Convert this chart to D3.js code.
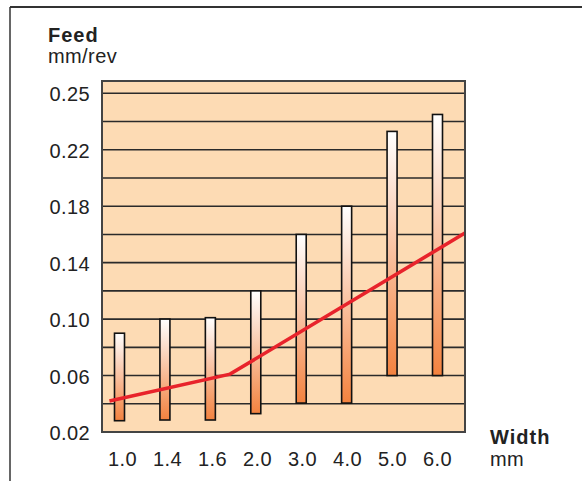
<!DOCTYPE html>
<html>
<head>
<meta charset="utf-8">
<script src="https://cdn.jsdelivr.net/npm/d3@7"></script>
<style>
  body { margin: 0; background: #fff; }
  text { font-family: "Liberation Sans", Arial, sans-serif; fill: #222; }
</style>
</head>
<body>
<div id="wrapper"></div>
<script>
// values
const widths = ["1.0", "1.4", "1.6", "2.0", "3.0", "4.0", "5.0", "6.0"]
const feedLow = [0.028, 0.0285, 0.0285, 0.033, 0.0405, 0.0405, 0.06, 0.06]
const feedHigh = [0.090, 0.100, 0.101, 0.120, 0.160, 0.180, 0.233, 0.245]
// red recommended-feed line, x given as position along the width categories
const lineAt = [-0.29, 2.39, 7.61]
const lineFeed = [0.042, 0.061, 0.161]
const gridValues = [0.02, 0.04, 0.06, 0.08, 0.10, 0.12, 0.14, 0.16, 0.18, 0.20, 0.22, 0.24, 0.26]
const yTickValues = [0.02, 0.06, 0.10, 0.14, 0.18, 0.22, 0.26]
const yTickLabels = ["0.02", "0.06", "0.10", "0.14", "0.18", "0.22", "0.25"]

function drawChart() {

let dimensions = {
  width: 582,
  height: 481,
  margin: {
    top: 81,
    right: 117,
    bottom: 49,
    left: 102,
  },
}
dimensions.boundedWidth = dimensions.width
  - dimensions.margin.left
  - dimensions.margin.right
dimensions.boundedHeight = dimensions.height
  - dimensions.margin.top
  - dimensions.margin.bottom

const wrapper = d3.select("#wrapper")
  .append("svg")
    .attr("width", dimensions.width)
    .attr("height", dimensions.height)

// outer frame (only top and left show)
wrapper.append("line")
  .attr("x1", 10).attr("x2", dimensions.width)
  .attr("y1", 7).attr("y2", 7)
  .attr("stroke", "#333").attr("stroke-width", 2)
wrapper.append("line")
  .attr("x1", 10).attr("x2", 10)
  .attr("y1", 7).attr("y2", dimensions.height)
  .attr("stroke", "#333").attr("stroke-width", 1.5)

const bounds = wrapper.append("g")
  .attr("transform", `translate(${dimensions.margin.left},${dimensions.margin.top})`)

const yScale = d3.scaleLinear()
  .domain([0.02, 0.26])
  .range([dimensions.boundedHeight, 12.3])

// label positions and a slightly shifted one for the bars
const xScale = d3.scaleLinear()
  .domain([0, widths.length - 1])
  .range([20.5, 335.5])
const xBar = d3.scalePoint()
  .domain(widths)
  .range([17.5, 335.5])

const grad = wrapper.append("defs")
  .append("linearGradient")
    .attr("id", "barGrad")
    .attr("x1", 0).attr("x2", 0).attr("y1", 0).attr("y2", 1)
grad.append("stop").attr("offset", "0%").attr("stop-color", "#ffffff")
grad.append("stop").attr("offset", "100%").attr("stop-color", "#f3823f")

bounds.append("rect")
  .attr("width", dimensions.boundedWidth)
  .attr("height", dimensions.boundedHeight)
  .attr("fill", "#fddbb4")

bounds.selectAll(".grid")
  .data(gridValues)
  .join("line")
    .attr("class", "grid")
    .attr("x1", 0)
    .attr("x2", dimensions.boundedWidth)
    .attr("y1", d => yScale(d))
    .attr("y2", d => yScale(d))
    .attr("stroke", "#2a2a2a")
    .attr("stroke-width", 1.6)

const barWidth = 10
bounds.selectAll(".bar")
  .data(widths)
  .join("rect")
    .attr("class", "bar")
    .attr("x", d => xBar(d) - barWidth / 2)
    .attr("y", (d, i) => yScale(feedHigh[i]))
    .attr("width", barWidth)
    .attr("height", (d, i) => yScale(feedLow[i]) - yScale(feedHigh[i]))
    .attr("fill", "url(#barGrad)")
    .attr("stroke", "#111")
    .attr("stroke-width", 1.6)

const lineGenerator = d3.line()
  .x(d => xScale(d[0]))
  .y(d => yScale(d[1]))

bounds.append("path")
  .datum(d3.zip(lineAt, lineFeed))
  .attr("d", lineGenerator)
  .attr("fill", "none")
  .attr("stroke", "#e8232b")
  .attr("stroke-width", 3.6)

bounds.append("rect")
  .attr("width", dimensions.boundedWidth)
  .attr("height", dimensions.boundedHeight)
  .attr("fill", "none")
  .attr("stroke", "#444")
  .attr("stroke-width", 2)

// y tick labels
bounds.selectAll(".ytick")
  .data(yTickValues)
  .join("text")
    .attr("class", "ytick")
    .attr("x", -12)
    .attr("y", d => yScale(d) + 8)
    .attr("text-anchor", "end")
    .style("font-size", "20px")
    .style("letter-spacing", "0.4px")
    .text((d, i) => yTickLabels[i])

// x tick labels
bounds.selectAll(".xtick")
  .data(widths)
  .join("text")
    .attr("class", "xtick")
    .attr("x", (d, i) => xScale(i))
    .attr("y", dimensions.boundedHeight + 34)
    .attr("text-anchor", "middle")
    .style("font-size", "20px")
    .style("letter-spacing", "0.4px")
    .text(d => d)

wrapper.append("text").attr("x", 48).attr("y", 42).text("Feed")
  .style("font-size", "20px").style("font-weight", "bold").style("letter-spacing", "1px")
wrapper.append("text").attr("x", 48).attr("y", 63).text("mm/rev")
  .style("font-size", "20px").style("letter-spacing", "0.4px")
wrapper.append("text").attr("x", 490).attr("y", 444).text("Width")
  .style("font-size", "20px").style("font-weight", "bold").style("letter-spacing", "1px")
wrapper.append("text").attr("x", 490).attr("y", 466).text("mm")
  .style("font-size", "20px").style("letter-spacing", "0.4px")

}
drawChart()
</script>
</body>
</html>
